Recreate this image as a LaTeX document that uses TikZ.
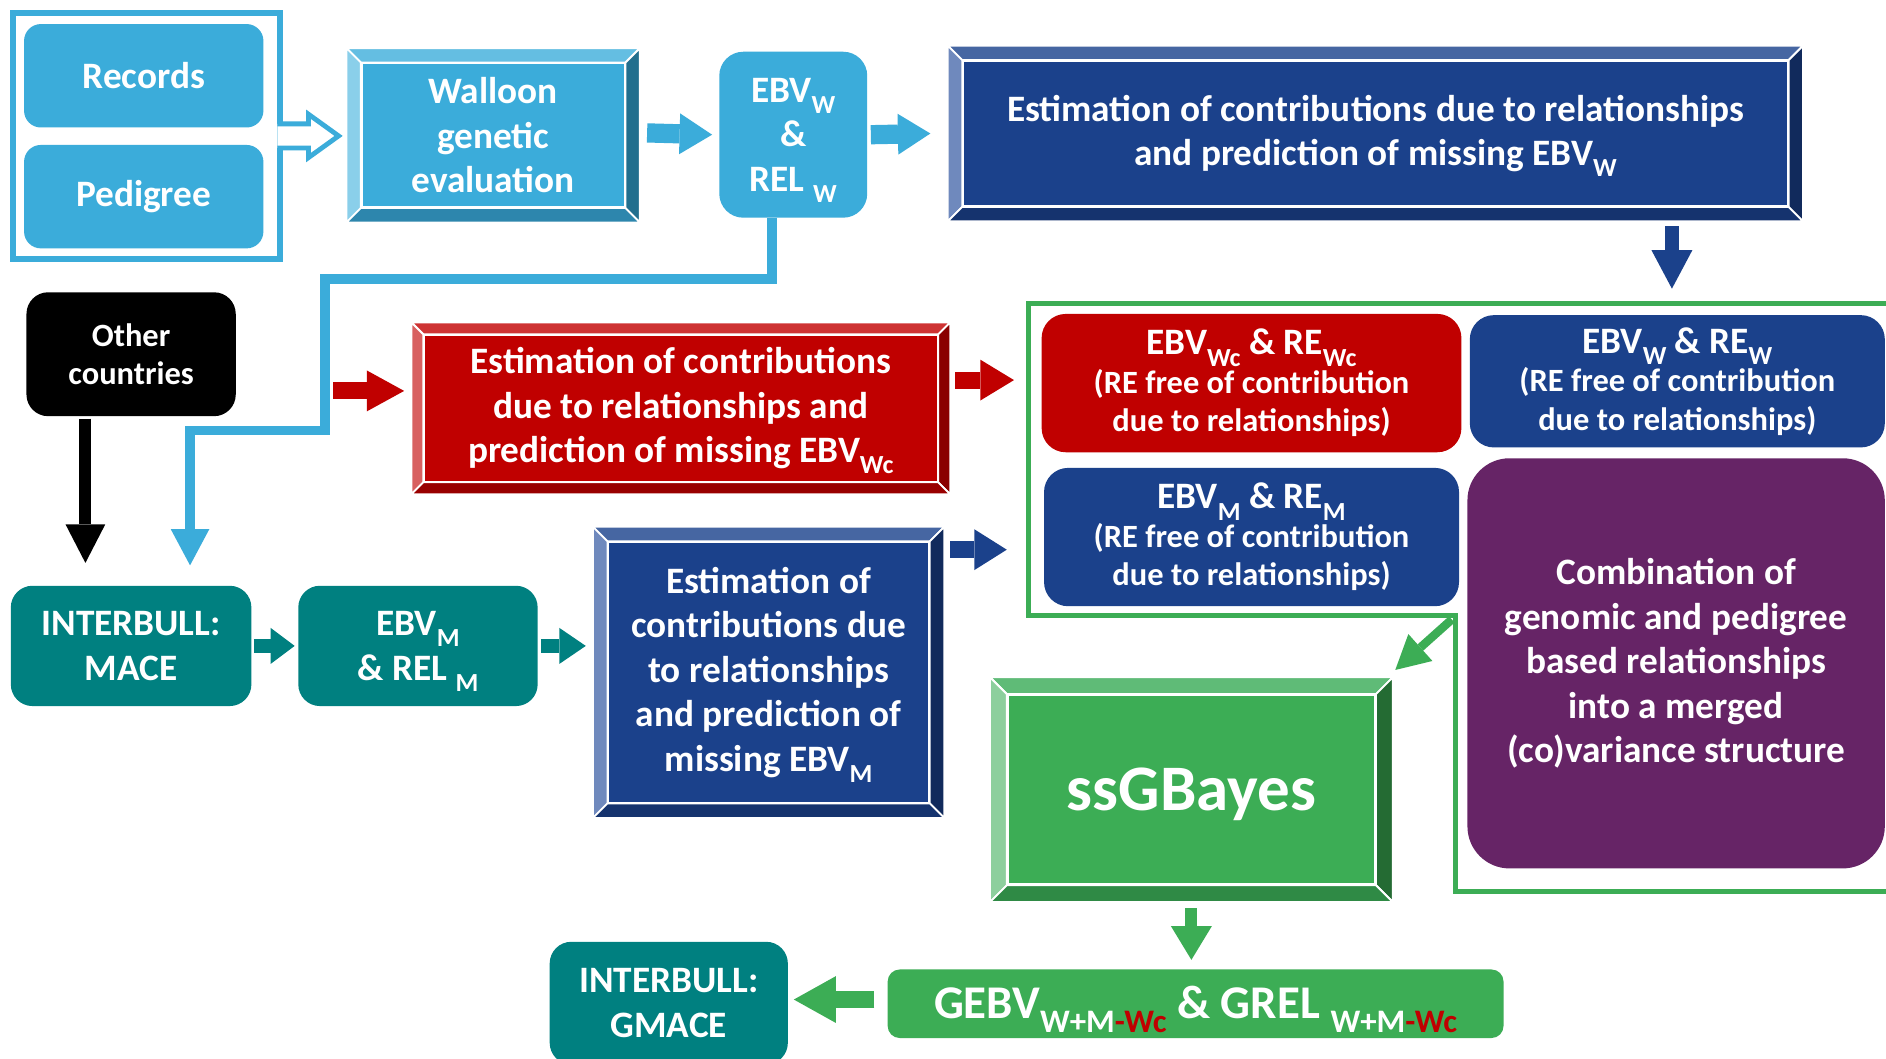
\documentclass[tikz,border=0pt]{standalone}
\usepackage{fontspec}
\usepackage{graphicx}
\setmainfont{Carlito}
\usetikzlibrary{arrows.meta,calc}
\definecolor{lb}{HTML}{3BACDA}
\definecolor{lbT}{HTML}{64BEE2}
\definecolor{lbL}{HTML}{8ACFEA}
\definecolor{lbR}{HTML}{226F8E}
\definecolor{lbB}{HTML}{2D86AD}
\definecolor{db}{HTML}{1B418B}
\definecolor{dbT}{HTML}{4666A2}
\definecolor{dbL}{HTML}{6F89BD}
\definecolor{dbR}{HTML}{112A5C}
\definecolor{dbB}{HTML}{15336E}
\definecolor{rd}{HTML}{C00000}
\definecolor{rdT}{HTML}{CE3333}
\definecolor{rdL}{HTML}{D86060}
\definecolor{rdR}{HTML}{8A0000}
\definecolor{rdB}{HTML}{990000}
\definecolor{tl}{HTML}{008080}
\definecolor{gr}{HTML}{3CAD55}
\definecolor{grT}{HTML}{5FBB77}
\definecolor{grL}{HTML}{8DCF9D}
\definecolor{grR}{HTML}{246B33}
\definecolor{grB}{HTML}{2F8A45}
\definecolor{pu}{HTML}{662466}
\newcommand\sbs[1]{\raisebox{-0.3em}[0pt][0pt]{\scalebox{0.7}{#1}}}
\newcommand\sbsb[2]{\raisebox{-0.3em}[0pt][0pt]{\scalebox{0.7}{#1\textcolor{rd}{#2}}}}
\newcommand\firstln[1]{{\fontsize{31}{34}\selectfont #1}}
\newcommand\bevelbox[6]{%
 \path[draw=white, line width=1.5pt, fill=#3] ([xshift=-#2pt,yshift=#2pt]#1.north west) -- ([xshift=#2pt,yshift=#2pt]#1.north east) -- (#1.north east) -- (#1.north west) -- cycle;
 \path[draw=white, line width=1.5pt, fill=#4] ([xshift=-#2pt,yshift=#2pt]#1.north west) -- (#1.north west) -- (#1.south west) -- ([xshift=-#2pt,yshift=-#2pt]#1.south west) -- cycle;
 \path[draw=white, line width=1.5pt, fill=#5] ([xshift=#2pt,yshift=#2pt]#1.north east) -- ([xshift=#2pt,yshift=-#2pt]#1.south east) -- (#1.south east) -- (#1.north east) -- cycle;
 \path[draw=white, line width=1.5pt, fill=#6] ([xshift=-#2pt,yshift=-#2pt]#1.south west) -- ([xshift=#2pt,yshift=-#2pt]#1.south east) -- (#1.south east) -- (#1.south west) -- cycle;
}
\tikzset{
 base/.style={text=white, align=center, inner sep=0pt, outer sep=0pt, font=\bfseries\fontsize{31}{37}\selectfont},
 fsm/.style={font=\bfseries\fontsize{27}{32}\selectfont},
 rbox/.style={base, rounded corners=#1},
 face/.style={base, draw=white, line width=3pt},
 blk/.style args={#1/#2/#3}{line width=#1pt, -{Triangle[length=#2pt,width=#3pt,line width=0pt]}},
}
\begin{document}
\begin{tikzpicture}[x=1pt,y=-1pt]
\clip (0,0) rectangle (1568,880);
\fill[white] (0,0) rectangle (1568,880);

% top-left frame
\node[draw=lb, line width=5pt, minimum width=222pt, minimum height=205pt, inner sep=0pt, outer sep=0pt] (frame) at (121.5,113) {};
\node[rbox=14pt, fill=lb, minimum width=199pt, minimum height=86pt] (rec) at (119.5,63) {Records};
\node[rbox=14pt, fill=lb, minimum width=199pt, minimum height=86pt] (ped) at (119.5,163.5) {Pedigree};
\draw[lb, line width=4pt, fill=white, line join=miter]
  ($(frame.east)+(-2,-10)$) -- ($(frame.east)+(24,-10)$) -- ($(frame.east)+(24,-18)$) -- ($(frame.east)+(49,0)$)
  -- ($(frame.east)+(24,18)$) -- ($(frame.east)+(24,10)$) -- ($(frame.east)+(-2,10)$);

% Walloon
\node[face, fill=lb, minimum width=220pt, minimum height=121pt] (wge) at (410,112.5) {Walloon\\genetic\\evaluation};
\bevelbox{wge}{12}{lbT}{lbL}{lbR}{lbB}

% EBV W
\node[rbox=20pt, fill=lb, minimum width=123pt, minimum height=138pt] (ebvw) at (659.5,112) {EBV\sbs{W}\\\&\\REL \sbs{W}};

% Big blue top
\node[face, fill=db, minimum width=687pt, minimum height=122pt] (bigw) at (1143.5,111) {Estimation of contributions due to relationships\\and prediction of missing EBV\sbs{W}};
\bevelbox{bigw}{12}{dbT}{dbL}{dbR}{dbB}

\draw[lb, blk=16/27/34] ([xshift=18pt, yshift=2pt]wge.east) -- ([xshift=-6pt]ebvw.west);
\draw[lb, blk=16/27/34] ([xshift=3pt]ebvw.east) -- ([xshift=-26.5pt]bigw.west);

% Other countries
\node[rbox=18pt, fill=black, fsm, minimum width=174pt, minimum height=103pt] (oth) at (109,294.5) {Other\\countries};

% Red box
\node[face, line width=2.5pt, fill=rd, minimum width=428pt, minimum height=123pt] (redbox) at (566,339.5) {Estimation of contributions\\due to relationships and\\prediction of missing EBV\sbs{Wc}};
\bevelbox{redbox}{10}{rdT}{rdL}{rdR}{rdB}

% Green frame
\draw[gr, line width=4pt] (1590,252) -- (855,252) -- (855,512) -- (1210,512) -- (1210,741) -- (1590,741);
\coordinate (gc) at (1210,512);

% right boxes
\node[rbox=20pt, fill=rd, fsm, minimum width=349pt, minimum height=115pt] (ebvwc) at (1040.5,318.5) {\firstln{EBV\sbs{Wc} \& RE\sbs{Wc}}\\(RE free of contribution\\due to relationships)};
\node[rbox=20pt, fill=db, fsm, minimum width=345pt, minimum height=110pt] (ebvwre) at (1394.5,317) {\firstln{EBV\sbs{W} \& RE\sbs{W}}\\(RE free of contribution\\due to relationships)};
\node[rbox=20pt, fill=db, fsm, minimum width=345pt, minimum height=115pt] (ebvmre) at (1040.5,446.5) {\firstln{EBV\sbs{M} \& RE\sbs{M}}\\(RE free of contribution\\due to relationships)};
\node[rbox=35pt, fill=pu, minimum width=347pt, minimum height=341pt] (comb) at (1393.5,551.5) {Combination of\\genomic and pedigree\\based relationships\\into a merged\\(co)variance structure};

% Teal row
\node[rbox=18pt, fill=tl, minimum width=200pt, minimum height=100pt] (mace) at (109,537) {INTERBULL:\\MACE};
\node[rbox=18pt, fill=tl, minimum width=199pt, minimum height=100pt] (ebvm) at (347.5,537) {EBV\sbs{M}\\\& REL \sbs{M}};

% blue box 2
\node[face, fill=db, minimum width=268pt, minimum height=218pt] (box2) at (639,559) {Estimation of\\contributions due\\to relationships\\and prediction of\\missing EBV\sbs{M}};
\bevelbox{box2}{12}{dbT}{dbL}{dbR}{dbB}

% ssGBayes
\node[face, fill=gr, minimum width=307pt, minimum height=159pt, font=\bfseries\fontsize{54}{60}\selectfont, text height=35pt, text depth=0pt] (ssg) at (990.5,656.5) {ssGBayes};
\bevelbox{ssg}{14}{grT}{grL}{grR}{grB}

% GEBV
\node[rbox=10pt, fill=gr, font=\bfseries\fontsize{39}{45}\selectfont, minimum width=512pt, minimum height=57pt, text height=25pt, text depth=0pt] (gebv) at (994,834.5) {GEBV\sbsb{W+M}{-Wc} \& GREL \sbsb{W+M}{-Wc}};

% GMACE
\node[rbox=18pt, fill=tl, minimum width=198pt, minimum height=102pt] (gmace) at (556,834) {INTERBULL:\\GMACE};

% connectors
\draw[db, blk=12/32/34] ([xshift=246.5pt, yshift=-16pt]bigw.south) -- ([xshift=-4.5pt, yshift=22pt]ebvwre.north);
\coordinate (b1) at (270,232);
\coordinate (b2) at (158,358);
\draw[lb, line width=8pt, -{Triangle[length=30pt,width=32pt,line width=0pt]}] ([xshift=-17.5pt]ebvw.south) |- (b1) |- (b2) -- ([xshift=49pt,yshift=17pt]mace.north);
\coordinate (rstart) at (277,325);
\draw[rd, blk=14/31/34] (rstart) -- ([xshift=-16pt, yshift=14.5pt]redbox.west);
\draw[black, blk=10/32/33] ([xshift=-38pt, yshift=-2pt]oth.south) -- ([xshift=-38pt, yshift=19pt]mace.north);
\draw[rd, blk=14/28/34] ([xshift=14pt, yshift=23.5pt]redbox.east) -- ([xshift=-23pt, yshift=2.5pt]ebvwc.west);
\draw[db, blk=14/27/34] ([xshift=17pt, yshift=102pt]box2.east) -- ([xshift=-31pt, yshift=-10.5pt]ebvmre.west);
\draw[tl, blk=12/20/30] ([xshift=2pt]mace.east) -- ([xshift=-3pt]ebvm.west);
\draw[tl, blk=12/22/30] ([xshift=3pt]ebvm.east) -- ([xshift=-18pt, yshift=22pt]box2.west);
\draw[gr, blk=7/28/30] ([xshift=-3pt, yshift=-3pt]gc) -- ([xshift=16pt, yshift=20pt]ssg.north east);
\draw[gr, blk=10/28/34] ([yshift=-19pt]ssg.south) -- ([xshift=-3.5pt, yshift=8pt]gebv.north);
\draw[gr, blk=14/35/39] ([xshift=-11pt, yshift=3.5pt]gebv.west) -- ([xshift=5pt, yshift=3pt]gmace.east);
\end{tikzpicture}
\end{document}
